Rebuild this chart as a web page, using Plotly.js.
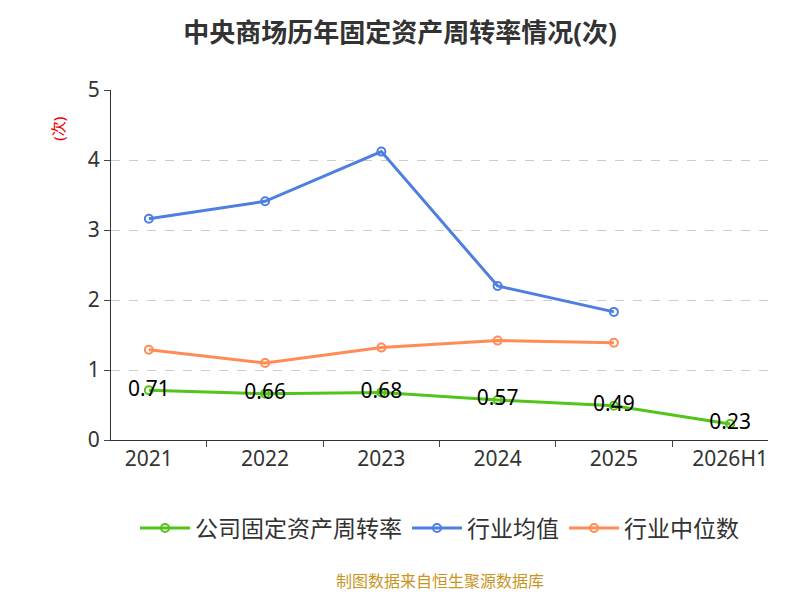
<!DOCTYPE html>
<html><head><meta charset="utf-8">
<script src="https://cdn.plot.ly/plotly-3.0.1.min.js"></script>
<style>body{margin:0}</style></head>
<body><div id="c" style="width:800px;height:600px"></div>
<script>
var years=['2021','2022','2023','2024','2025','2026H1'];
var company=[0.71,0.66,0.68,0.57,0.49,0.23];
var avgYears=['2021','2022','2023','2024','2025'];
var industryAvg=[3.16,3.41,4.12,2.20,1.83];
var industryMedian=[1.29,1.10,1.32,1.42,1.39];
var f='"Noto Sans", "Noto Sans CJK SC", sans-serif';
var mk=function(c){return {symbol:'circle-open',size:8,color:c,line:{width:2,color:c}};};
var traces=[
{x:years,y:company,name:'公司固定资产周转率',mode:'lines+markers+text',text:company.map(function(v){return v.toFixed(2);}),textposition:'middle center',textfont:{size:21,color:'#000',family:f},line:{color:'#52c41a',width:3},marker:mk('#52c41a')},
{x:avgYears,y:industryAvg,name:'行业均值',mode:'lines+markers',line:{color:'#4e7fe0',width:3},marker:mk('#4e7fe0')},
{x:avgYears,y:industryMedian,name:'行业中位数',mode:'lines+markers',line:{color:'#ff8c55',width:3},marker:mk('#ff8c55')}
];
var layout={width:800,height:600,margin:{l:111,r:32,t:90,b:160,autoexpand:false},
paper_bgcolor:'#fff',plot_bgcolor:'#fff',font:{family:f,color:'#333'},
title:{text:'<b>中央商场历年固定资产周转率情况(次)</b>',x:0.5,y:0.96,font:{size:26,color:'#333'}},
xaxis:{type:'category',showline:true,linecolor:'#333',ticks:'outside',tickson:'boundaries',ticklen:6,tickfont:{size:21},showgrid:false},
yaxis:{range:[0,5],dtick:1,showline:true,linecolor:'#333',ticks:'outside',ticklen:6,tickfont:{size:21},gridcolor:'#ccc',griddash:'dash',zeroline:false},
legend:{orientation:'h',x:0.5,xanchor:'center',y:-0.19,font:{size:23},itemwidth:50},
annotations:[
{text:'(次)',xref:'paper',yref:'paper',x:-0.1,y:0.93,textangle:-90,showarrow:false,font:{size:15,color:'#e00'}},
{text:'制图数据来自恒生聚源数据库',xref:'paper',yref:'paper',x:0.5,y:-0.44,showarrow:false,font:{size:16,color:'#c8961e'}}
]};
Plotly.newPlot('c',traces,layout,{displayModeBar:false});
</script></body></html>
